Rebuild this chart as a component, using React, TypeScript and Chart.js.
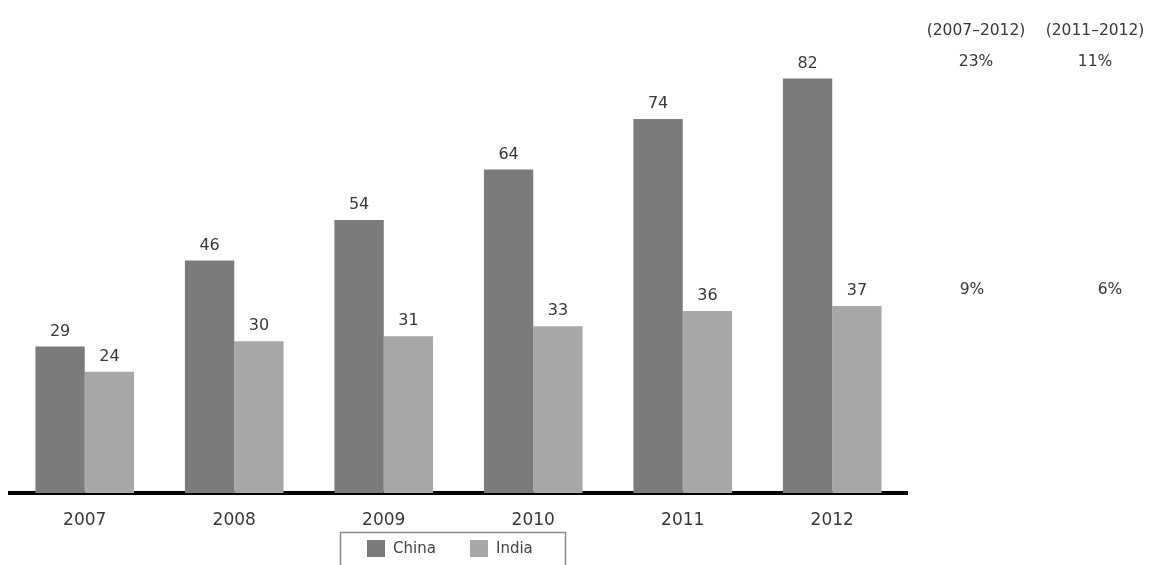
import React, { useEffect, useRef } from "react";
import { Chart, registerables } from "chart.js";

Chart.register(...registerables);

const years = ["2007", "2008", "2009", "2010", "2011", "2012"];
const china = [29, 46, 54, 64, 74, 82];
const india = [24, 30, 31, 33, 36, 37];
const growthHeaders = ["(2007–2012)", "(2011–2012)"];
const chinaGrowth = ["23%", "11%"];
const indiaGrowth = ["9%", "6%"];
const seriesNames = ["China", "India"];

const CHINA_COLOR = "#7b7b7b";
const INDIA_COLOR = "#a8a8a8";
const FONT = "'DejaVu Sans', sans-serif";

const overlayPlugin = {
  id: "overlay",
  afterDatasetsDraw(chart: any) {
    const ctx = chart.ctx;
    ctx.save();
    ctx.fillStyle = "#383838";
    ctx.font = `16px ${FONT}`;
    ctx.textAlign = "center";
    ctx.textBaseline = "bottom";
    chart.data.datasets.forEach((ds: any, di: number) => {
      const meta = chart.getDatasetMeta(di);
      meta.data.forEach((bar: any, i: number) => {
        ctx.fillText(String(ds.data[i]), bar.x, bar.y - 7);
      });
    });

    // growth annotations
    const colX = [976, 1095];
    ctx.textBaseline = "middle";
    ctx.font = `15.5px ${FONT}`;
    growthHeaders.forEach((t, i) => ctx.fillText(t, colX[i], 31));
    chinaGrowth.forEach((t, i) => ctx.fillText(t, colX[i], 62));
    const indiaX = [972, 1110];
    indiaGrowth.forEach((t, i) => ctx.fillText(t, indiaX[i], 290));

    // legend box
    ctx.strokeStyle = "#8a8a8a";
    ctx.lineWidth = 1.5;
    ctx.strokeRect(340.5, 532.5, 225, 40);
    const colors = [CHINA_COLOR, INDIA_COLOR];
    const boxX = [367, 470];
    ctx.textAlign = "left";
    ctx.font = `15px ${FONT}`;
    seriesNames.forEach((n, i) => {
      ctx.fillStyle = colors[i];
      ctx.fillRect(boxX[i], 540, 18, 17);
      ctx.fillStyle = "#444";
      ctx.fillText(n, boxX[i] + 26, 549);
    });
    ctx.restore();
  },
};

export default function App() {
  const ref = useRef<HTMLCanvasElement>(null);
  useEffect(() => {
    if (!ref.current) return;
    const chart = new Chart(ref.current, {
      type: "bar",
      data: {
        labels: years,
        datasets: [
          { label: seriesNames[0], data: china, backgroundColor: CHINA_COLOR },
          { label: seriesNames[1], data: india, backgroundColor: INDIA_COLOR },
        ],
      },
      options: {
        responsive: false,
        animation: false,
        layout: { padding: { left: 10, right: 256, top: 38, bottom: 0 } },
        datasets: {
          bar: { categoryPercentage: 0.66, barPercentage: 1.0 },
        },
        plugins: {
          legend: { display: false },
          tooltip: { enabled: false },
        },
        scales: {
          x: {
            grid: { display: false },
            border: { display: true, color: "#000", width: 4 },
            ticks: { color: "#383838", font: { size: 17, family: FONT }, padding: 9 },
            afterFit(scale: any) {
              scale.height = 72;
            },
          },
          y: {
            display: false,
            min: 0,
            max: 90,
          },
        },
      },
      plugins: [overlayPlugin],
    });
    return () => chart.destroy();
  }, []);
  return (
    <div style={{ position: "absolute", left: 0, top: 0, width: 1163, height: 565, overflow: "hidden", background: "#fff" }}>
      <canvas ref={ref} width={1163} height={565} />
    </div>
  );
}
